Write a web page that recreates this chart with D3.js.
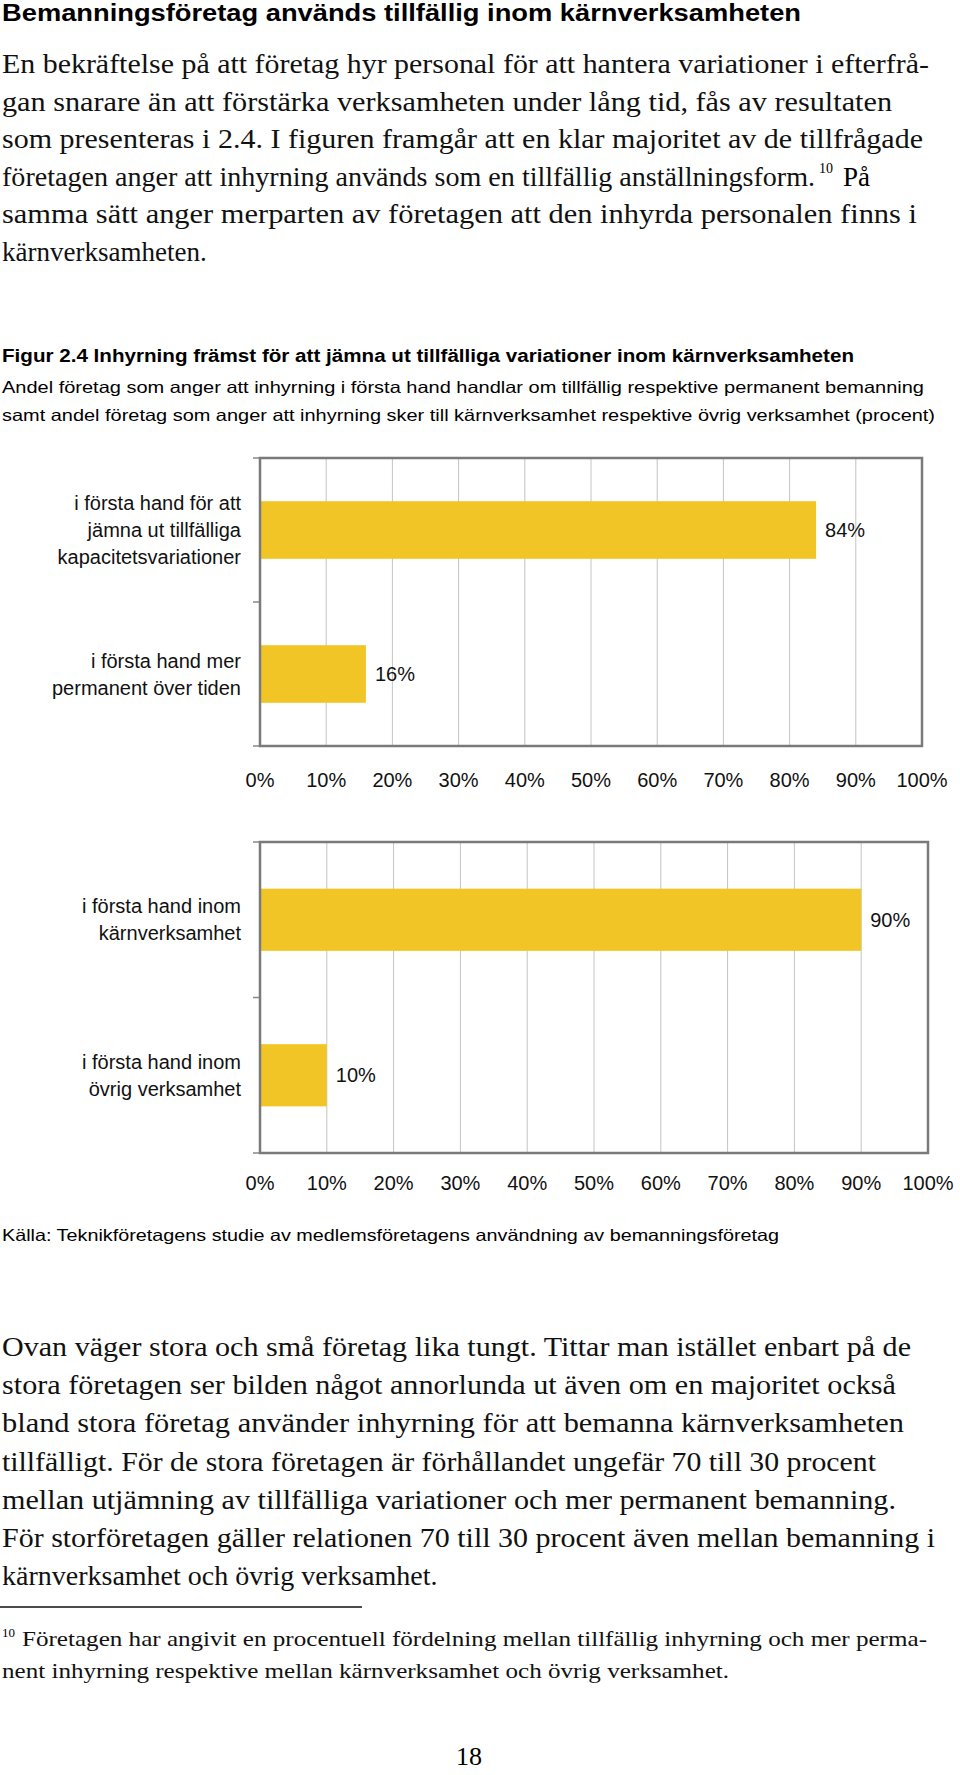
<!DOCTYPE html>
<html><head><meta charset="utf-8">
<script src="https://cdn.jsdelivr.net/npm/d3@7"></script>
<style>body{margin:0;background:#fff}</style>
</head><body>
<svg id="page" width="960" height="1775"></svg>
<script>
// chart data
const chart1Labels = [["i första hand för att", "jämna ut tillfälliga", "kapacitetsvariationer"], ["i första hand mer", "permanent över tiden"]];
const chart1Values = [84, 16];
const chart2Labels = [["i första hand inom", "kärnverksamhet"], ["i första hand inom", "övrig verksamhet"]];
const chart2Values = [90, 10];
const tickValues = [0, 10, 20, 30, 40, 50, 60, 70, 80, 90, 100];

const para1 = [
  ["En bekräftelse på att företag hyr personal för att hantera variationer i efterfrå-", 929],
  ["gan snarare än att förstärka verksamheten under lång tid, fås av resultaten", 892],
  ["som presenteras i 2.4. I figuren framgår att en klar majoritet av de tillfrågade", 923],
  ["företagen anger att inhyrning används som en tillfällig anställningsform.", 815],
  ["samma sätt anger merparten av företagen att den inhyrda personalen finns i", 917],
  ["kärnverksamheten.", 0]
];
const para2 = [
  ["Ovan väger stora och små företag lika tungt. Tittar man istället enbart på de", 911],
  ["stora företagen ser bilden något annorlunda ut även om en majoritet också", 896],
  ["bland stora företag använder inhyrning för att bemanna kärnverksamheten", 904],
  ["tillfälligt. För de stora företagen är förhållandet ungefär 70 till 30 procent", 876],
  ["mellan utjämning av tillfälliga variationer och mer permanent bemanning.", 896],
  ["För storföretagen gäller relationen 70 till 30 procent även mellan bemanning i", 935],
  ["kärnverksamhet och övrig verksamhet.", 0]
];
const footnote = [
  ["Företagen har angivit en procentuell fördelning mellan tillfällig inhyrning och mer perma-", 927],
  ["nent inhyrning respektive mellan kärnverksamhet och övrig verksamhet.", 729]
];

const svg = d3.select("#page");
const serif = "'Liberation Serif', 'DejaVu Serif', serif";
const sans = "'Liberation Sans', Arial, sans-serif";

function textLines(lines, x, y0, step, size, family) {
  lines.forEach(function(l, i) {
    const t = svg.append("text").attr("x", x).attr("y", y0 + i * step)
      .attr("font-family", family).attr("font-size", size).attr("fill", "#111").text(l[0]);
    if (l[1]) t.attr("textLength", l[1] - x).attr("lengthAdjust", "spacingAndGlyphs");
  });
}

// heading
svg.append("text").attr("x", 2).attr("y", 21).attr("font-family", sans).attr("font-weight", "bold")
  .attr("font-size", 23).attr("textLength", 799).attr("lengthAdjust", "spacingAndGlyphs")
  .text("Bemanningsföretag används tillfällig inom kärnverksamheten");

textLines(para1, 2, 73, 37.5, 27, serif);
svg.append("text").attr("x", 819).attr("y", 173).attr("font-family", serif).attr("font-size", 14).text("10");
svg.append("text").attr("x", 843).attr("y", 185.5).attr("font-family", serif).attr("font-size", 27).text("På");

// figure title
svg.append("text").attr("x", 2).attr("y", 362).attr("font-family", sans).attr("font-weight", "bold")
  .attr("font-size", 18).attr("textLength", 852).attr("lengthAdjust", "spacingAndGlyphs")
  .text("Figur 2.4 Inhyrning främst för att jämna ut tillfälliga variationer inom kärnverksamheten");
svg.append("text").attr("x", 2).attr("y", 393).attr("font-family", sans).attr("font-size", 16.5)
  .attr("textLength", 922).attr("lengthAdjust", "spacingAndGlyphs")
  .text("Andel företag som anger att inhyrning i första hand handlar om tillfällig respektive permanent bemanning");
svg.append("text").attr("x", 2).attr("y", 421).attr("font-family", sans).attr("font-size", 16.5)
  .attr("textLength", 933).attr("lengthAdjust", "spacingAndGlyphs")
  .text("samt andel företag som anger att inhyrning sker till kärnverksamhet respektive övrig verksamhet (procent)");

function barChart(labels, values, x0, x1, y0, y1, tickY) {
  const x = d3.scaleLinear().domain([0, 100]).range([x0, x1]);
  const y = d3.scaleBand().domain(d3.range(values.length)).range([y0, y1]).paddingInner(0.6).paddingOuter(0.3);
  const g = svg.append("g");

  g.selectAll(".grid").data(tickValues.slice(1, -1)).enter().append("line")
    .attr("x1", d => x(d)).attr("x2", d => x(d)).attr("y1", y0).attr("y2", y1)
    .attr("stroke", "#c4c4c4").attr("stroke-width", 1);

  // category boundary ticks on the left
  const bandStep = (y1 - y0) / values.length;
  g.selectAll(".ytick").data(d3.range(values.length + 1)).enter().append("line")
    .attr("x1", x0 - 7).attr("x2", x0).attr("y1", d => y0 + d * bandStep).attr("y2", d => y0 + d * bandStep)
    .attr("stroke", "#888").attr("stroke-width", 1.5);

  g.selectAll(".bar").data(values).enter().append("rect")
    .attr("x", x0).attr("y", (d, i) => y(i)).attr("width", d => x(d) - x0).attr("height", y.bandwidth())
    .attr("fill", "#f2c526");

  g.selectAll(".val").data(values).enter().append("text")
    .attr("x", d => x(d) + 9).attr("y", (d, i) => y(i) + y.bandwidth() / 2 + 7)
    .attr("font-family", sans).attr("font-size", 20).attr("fill", "#111").text(d => d + "%");

  g.append("rect").attr("x", x0).attr("y", y0).attr("width", x1 - x0).attr("height", y1 - y0)
    .attr("fill", "none").attr("stroke", "#7a7a7a").attr("stroke-width", 2.5);

  labels.forEach(function(lines, i) {
    const cy = y(i) + y.bandwidth() / 2;
    lines.forEach(function(s, j) {
      g.append("text").attr("x", 241).attr("y", cy + (j - (lines.length - 1) / 2) * 27 + 7)
        .attr("text-anchor", "end").attr("font-family", sans).attr("font-size", 20).attr("fill", "#111").text(s);
    });
  });

  g.selectAll(".xl").data(tickValues).enter().append("text")
    .attr("x", d => x(d)).attr("y", tickY).attr("text-anchor", "middle")
    .attr("font-family", sans).attr("font-size", 20).attr("fill", "#111").text(d => d + "%");
}

barChart(chart1Labels, chart1Values, 260, 922, 458, 746, 787);
barChart(chart2Labels, chart2Values, 260, 928, 842, 1153, 1190);

svg.append("text").attr("x", 2).attr("y", 1241).attr("font-family", sans).attr("font-size", 16.5)
  .attr("textLength", 777).attr("lengthAdjust", "spacingAndGlyphs")
  .text("Källa: Teknikföretagens studie av medlemsföretagens användning av bemanningsföretag");

textLines(para2, 2, 1356, 38.2, 28, serif);

svg.append("line").attr("x1", 0).attr("x2", 362).attr("y1", 1607).attr("y2", 1607).attr("stroke", "#111").attr("stroke-width", 1.5);
svg.append("text").attr("x", 2).attr("y", 1637).attr("font-family", serif).attr("font-size", 13).text("10");
textLines([footnote[0]], 22, 1646, 0, 22, serif);
textLines([footnote[1]], 2, 1678, 0, 22, serif);

svg.append("text").attr("x", 469).attr("y", 1765).attr("text-anchor", "middle").attr("font-family", serif)
  .attr("font-size", 26).text("18");
</script>
</body></html>
